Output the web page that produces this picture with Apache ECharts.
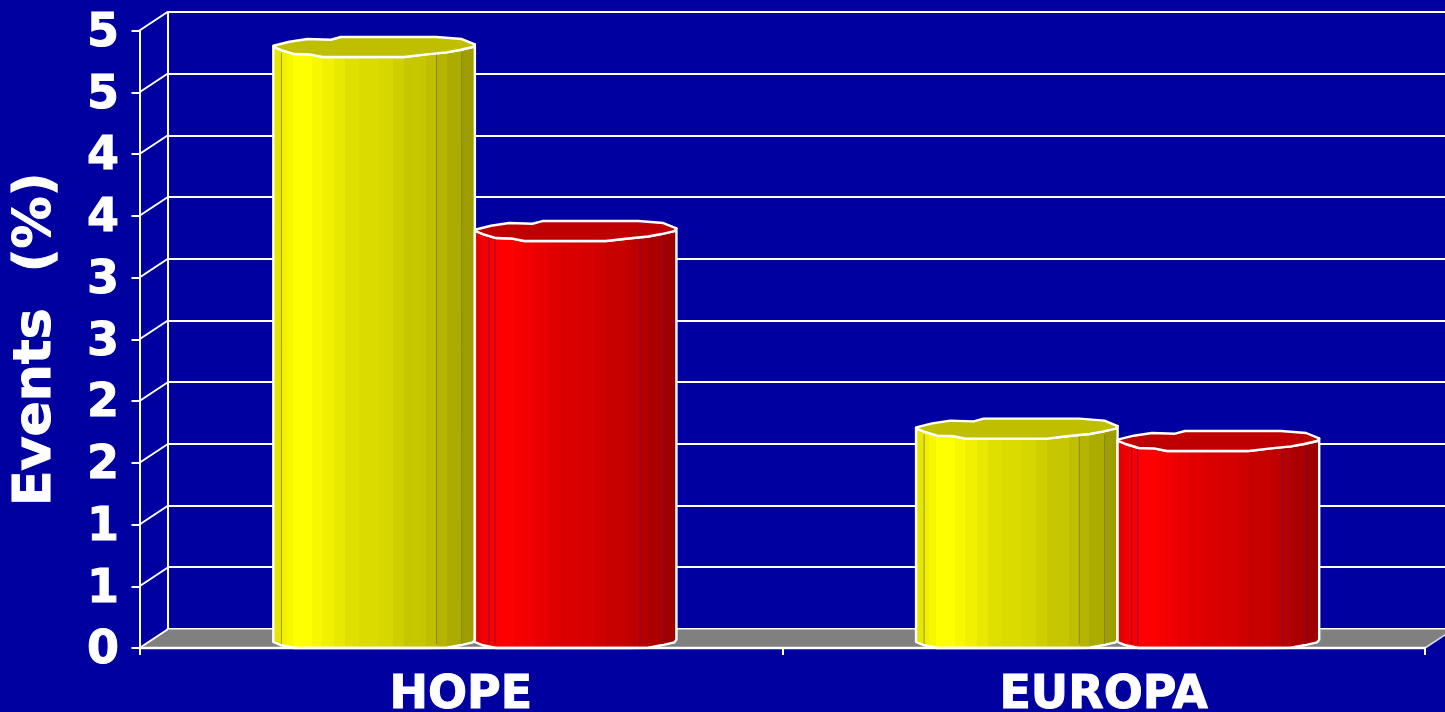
<!DOCTYPE html>
<html>
<head>
<meta charset="utf-8">
<style>html,body{margin:0;padding:0;background:#0000A0;overflow:hidden}#c{width:1445px;height:712px}</style>
<script src="https://cdn.jsdelivr.net/npm/echarts@6/dist/echarts.min.js"></script>
</head>
<body>
<div id="c"></div>
<script>
const categories = ['HOPE', 'EUROPA'];
const yellowValues = [4.82, 1.73];
const redValues = [3.33, 1.63];
const yTicks = [0, 0.5, 1, 1.5, 2, 2.5, 3, 3.5, 4, 4.5, 5];
const yAxisName = 'Events  (%)';

const FONT = '"DejaVu Sans"';
const DEPTH_X = 28, DEPTH_Y = 18.5;
const FRONT = {left: 139.5, top: 30.5, width: 1285.5, height: 617.5};
const BACK = {left: 167.5, top: 12, width: 1285.5, height: 616.8};
const BAR_RATIO = 0.3136;
const BASE_LIFT = 6;

// ragged outline of the faceted cylinder: [fraction across -1..1, vertical offset]
const LOWER_EDGE = [[-1,0],[-0.92,3.3],[-0.79,7.3],[-0.64,7.7],[-0.51,10.3],[0.30,10.3],[0.52,7.7],[0.72,5.7],[0.85,3.3],[0.98,0.3],[1,-2.3]];
const UPPER_EDGE = [[0.87,-7.7],[0.62,-9.7],[-0.33,-9.7],[-0.43,-7],[-0.66,-7.7],[-0.84,-5],[-1,-1]];
const FACET_EDGES = [0,.038,.071,.104,.196,.245,.303,.358,.428,.522,.594,.648,.756,.809,.856,.930,1];
const FACET_SHADES = [.90,.94,.97,1,.97,.94,.91,.88,.86,.84,.81,.78,.75,.71,.67,.62];

function sideGradient(rgb) {
  const stops = [];
  FACET_SHADES.forEach(function (s, i) {
    const col = 'rgb(' + rgb.map(function (c) { return Math.round(c * s); }).join(',') + ')';
    stops.push({offset: FACET_EDGES[i], color: col});
    stops.push({offset: FACET_EDGES[i + 1], color: col});
  });
  return {type: 'linear', x: 0, y: 0, x2: 1, y2: 0, colorStops: stops};
}

function cylinder(side, rgb, lidColor, seamColor, seams) {
  return function (params, api) {
    const idx = api.value(0), val = api.value(1);
    const band = api.size([1, 0])[0];
    const hw = band * BAR_RATIO / 2;
    const center = api.coord([idx, 0])[0] + DEPTH_X / 2 + side * hw;
    const axisY = api.coord([idx, 0])[1];
    const base = axisY - BASE_LIFT;
    const top = api.coord([idx, val])[1] - BASE_LIFT;
    const px = function (u) { return center + u * hw; };
    const topLower = LOWER_EDGE.map(function (p) { return [px(p[0]), top + p[1]]; });
    const botLower = LOWER_EDGE.map(function (p) { return [px(p[0]), Math.min(base + p[1], axisY)]; }).reverse();
    const upper = UPPER_EDGE.map(function (p) { return [px(p[0]), top + p[1]]; });
    const children = [{
      type: 'polygon',
      shape: {points: topLower.concat(botLower)},
      style: {fill: sideGradient(rgb), stroke: '#fff', lineWidth: 2.4, lineJoin: 'round'}
    }];
    seams.forEach(function (f) {
      const x = px(f * 2 - 1);
      children.push({
        type: 'line',
        shape: {x1: x, y1: top + 6, x2: x, y2: base + 2},
        style: {stroke: seamColor, lineWidth: 1}
      });
    });
    children.push({
      type: 'polygon',
      shape: {points: topLower.concat(upper)},
      style: {fill: lidColor, stroke: '#fff', lineWidth: 2.4, lineJoin: 'round'}
    });
    return {type: 'group', children: children};
  };
}

function floorItem(params, api) {
  const g = params.coordSys;
  const y = api.coord([0, 0])[1];
  const x0 = g.x, x1 = g.x + g.width;
  return {
    type: 'polygon',
    shape: {points: [[x0, y], [x1, y], [x1 + DEPTH_X, y - DEPTH_Y], [x0 + DEPTH_X, y - DEPTH_Y]]},
    style: {fill: '#808080'}
  };
}

function slantItem(params, api) {
  const g = params.coordSys;
  const y = api.coord([0, api.value(0)])[1];
  const lines = [{
    type: 'line',
    shape: {x1: g.x, y1: y, x2: g.x + DEPTH_X, y2: y - DEPTH_Y},
    style: {stroke: '#fff', lineWidth: 2}
  }];
  if (api.value(0) === 0) {
    lines.push({
      type: 'line',
      shape: {x1: g.x + g.width, y1: y, x2: g.x + g.width + DEPTH_X, y2: y - DEPTH_Y},
      style: {stroke: '#dde', lineWidth: 1.5}
    });
  }
  return {type: 'group', children: lines};
}

const labelText = {color: '#fff', fontFamily: FONT, fontWeight: 'bold', textBorderColor: '#fff', textBorderWidth: 1};

const chart = echarts.init(document.getElementById('c'), null, {renderer: 'canvas'});
chart.setOption({
  animation: false,
  backgroundColor: '#0000A0',
  grid: [
    Object.assign({outerBoundsMode: 'none', containLabel: false}, BACK),
    Object.assign({outerBoundsMode: 'none', containLabel: false}, FRONT)
  ],
  xAxis: [
    {gridIndex: 0, type: 'category', data: categories, boundaryGap: true,
     axisLine: {show: true, onZero: false, lineStyle: {color: '#fff', width: 2.5}},
     axisTick: {show: false}, axisLabel: {show: false}, splitLine: {show: false}, z: 1},
    {gridIndex: 1, type: 'category', data: categories, boundaryGap: true,
     axisLine: {show: true, onZero: false, lineStyle: {color: '#fff', width: 2.4}},
     axisTick: {show: true, alignWithLabel: false, length: 7, lineStyle: {color: '#fff', width: 2}},
     axisLabel: Object.assign({}, labelText, {fontSize: 46, margin: 25, interval: 0}),
     splitLine: {show: false}, z: 10}
  ],
  yAxis: [
    {gridIndex: 0, type: 'value', min: 0, max: 5, interval: 0.5,
     axisLine: {show: true, onZero: false, lineStyle: {color: '#fff', width: 2}},
     axisTick: {show: false}, axisLabel: {show: false},
     splitLine: {show: true, lineStyle: {color: '#fff', width: 2.2}}, z: 1},
    {gridIndex: 1, type: 'value', min: 0, max: 5, interval: 0.5,
     name: yAxisName, nameLocation: 'middle', nameGap: 77, nameRotate: 90,
     nameTextStyle: Object.assign({}, labelText, {fontSize: 52}),
     axisLine: {show: true, onZero: false, lineStyle: {color: '#fff', width: 2}},
     axisTick: {show: true, length: 8, lineStyle: {color: '#fff', width: 2}},
     axisLabel: Object.assign({}, labelText, {margin: 20.5,
       rich: {n: Object.assign({}, labelText, {fontSize: 46, padding: [7, 0, 0, 0]})},
       formatter: function (v) { return '{n|' + Math.round(v) + '}'; }}),
     splitLine: {show: false}, z: 3}
  ],
  series: [
    {type: 'custom', name: 'floor', xAxisIndex: 1, yAxisIndex: 1, data: [[0]], renderItem: floorItem, silent: true, z: 2, clip: false},
    {type: 'custom', name: 'ticks', xAxisIndex: 1, yAxisIndex: 1, data: yTicks.map(function (t) { return [t]; }), encode: {y: 0}, renderItem: slantItem, silent: true, z: 3, clip: false},
    {type: 'custom', name: 'Yellow', xAxisIndex: 1, yAxisIndex: 1, z: 4, clip: false,
     data: yellowValues.map(function (v, i) { return [i, v]; }),
     renderItem: cylinder(-1, [255, 255, 0], '#BFBF00', 'rgba(120,120,60,0.8)', [.04, .81, .935])},
    {type: 'custom', name: 'Red', xAxisIndex: 1, yAxisIndex: 1, z: 5, clip: false,
     data: redValues.map(function (v, i) { return [i, v]; }),
     renderItem: cylinder(1, [255, 0, 0], '#BF0000', 'rgba(120,0,90,0.7)', [.07, .10, .82, .935])}
  ]
});
</script>
</body>
</html>
